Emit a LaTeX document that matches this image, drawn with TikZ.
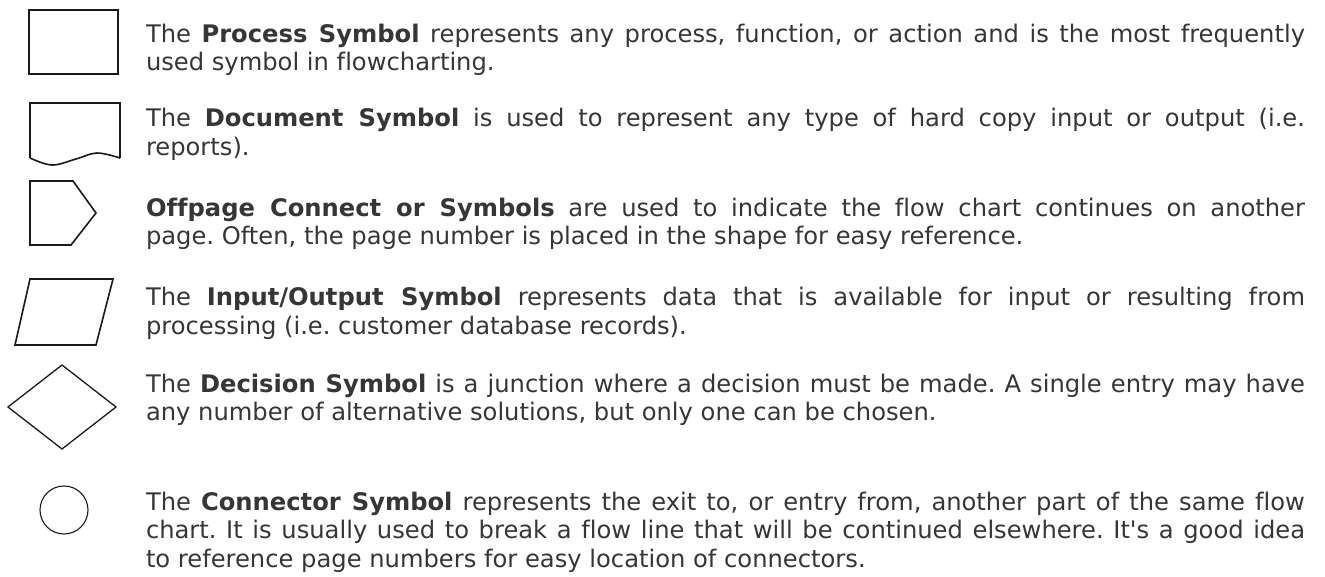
\documentclass[tikz,border=0pt]{standalone}
\usepackage{fontspec}
\setmainfont{DejaVu Sans}[Ligatures={TeXOff,NoCommon}]
\definecolor{txt}{HTML}{363636}
\definecolor{shp}{HTML}{1A1A1A}
\newcommand{\desc}[1]{\parbox[t]{1159pt}{\fontsize{24.2}{28.6}\selectfont\hyphenpenalty=10000\exhyphenpenalty=10000\tolerance=9999\emergencystretch=0pt\frenchspacing\leavevmode#1}}
\tikzset{
  sym/.style={draw=shp, line width=1.6pt, line join=miter},
  thinsym/.style={draw=shp, line width=1.1pt},
  desctext/.style={anchor=base west, inner sep=0pt, outer sep=0pt, text=txt}
}
\begin{document}
\begin{tikzpicture}[x=1pt,y=-1pt]
\useasboundingbox[fill=white] (0,0) rectangle (1325,576);
% process
\draw[sym] (29,10) rectangle (118,74);
% document
\draw[sym] plot[smooth, tension=0.6] coordinates {(30,158) (52,165) (76,159) (97,153) (120,158)};
\draw[sym] (30,158) -- (30,103) -- (120,103) -- (120,158);
% offpage
\draw[sym] (30,181) -- (73,181) -- (96,213) -- (71,245) -- (30,245) -- cycle;
% input/output
\draw[sym] (30,279) -- (113,279) -- (96,345) -- (15,345) -- cycle;
% decision
\draw[sym, line width=1.3pt] (8,407) -- (62,365) -- (116,407) -- (62,449) -- cycle;
% connector
\draw[thinsym] (64,510) circle (24);
% texts
\node[desctext] (t1) at (146,42) {\desc{The \textbf{Process Symbol} represents any process, function, or action and is the most frequently\linebreak used symbol in flowcharting.}};
\node[desctext] (t2) at (146,126.5) {\desc{The \textbf{Document Symbol} is used to represent any type of hard copy input or output (i.e.\linebreak reports).}};
\node[desctext] (t3) at (146,216) {\desc{\textbf{Offpage Connect or Symbols} are used to indicate the flow chart continues on another\linebreak page. Often, the page number is placed in the shape for easy reference.}};
\node[desctext] (t4) at (146,305.5) {\desc{The \textbf{Input/Output Symbol} represents data that is available for input or resulting from\linebreak processing (i.e. customer database records).}};
\node[desctext] (t5) at (146,392) {\desc{The \textbf{Decision Symbol} is a junction where a decision must be made. A single entry may have\linebreak any number of alternative solutions, but only one can be chosen.}};
\node[desctext] (t6) at (146,510) {\desc{The \textbf{Connector Symbol} represents the exit to, or entry from, another part of the same flow\linebreak chart. It is usually used to break a flow line that will be continued elsewhere. It's a good idea\linebreak to reference page numbers for easy location of connectors.}};
\end{tikzpicture}
\end{document}
